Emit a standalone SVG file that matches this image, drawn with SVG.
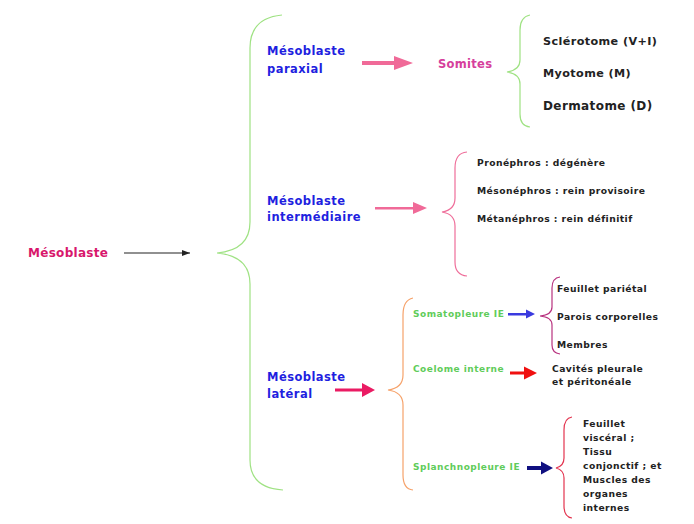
<svg xmlns="http://www.w3.org/2000/svg" width="694" height="524" viewBox="0 0 694 524">
<style>
text{font-family:"DejaVu Sans","Liberation Sans",sans-serif;font-weight:bold}
.b{fill:#1f1fe0;font-size:11.5px;letter-spacing:0.45px}
.k{fill:#222;font-size:9.2px;letter-spacing:0.45px}
.k2{fill:#222;font-size:11.2px;letter-spacing:0.4px}
.g{fill:#5fcc5a;font-size:9px;letter-spacing:0.5px}
.br{fill:none;stroke-width:1.2}
</style>
<defs>
<marker id="ab" markerWidth="8" markerHeight="6" refX="8" refY="3" orient="auto" markerUnits="userSpaceOnUse"><path d="M0,0 L8,3 L0,6 z" fill="#222"/></marker>
</defs>
<rect width="694" height="524" fill="#fff"/>
<g id="connectors">
<line x1="124" y1="253" x2="190" y2="253" stroke="#222" stroke-width="1.2" marker-end="url(#ab)"/>
<path d="M362,61 L394,61 L394,56 L413,63 L394,70 L394,65 L362,65 z" fill="#f06a98"/>
<path d="M375,207 L413,207 L413,202 L427,208 L413,214 L413,209.5 L375,209.5 z" fill="#f06a98"/>
<path d="M335,388.5 L362,388.5 L362,383 L375,390 L362,397 L362,391.5 L335,391.5 z" fill="#ea1b63"/>
<path d="M508,313 L526,313 L526,309.5 L535,314 L526,318.5 L526,315.5 L508,315.5 z" fill="#3a3adf"/>
<path d="M510,371.5 L524,371.5 L524,366.5 L537,373 L524,379.5 L524,374.5 L510,374.5 z" fill="#f01010"/>
<path d="M527,466 L541,466 L541,461.5 L553,468 L541,474.5 L541,470 L527,470 z" fill="#101080"/>
</g>
<g id="braces">
<path class="br" stroke="#9fe283" d="M282,15 Q250,18 250,48 L250,222 Q250,250 217,253 Q250,256 250,284 L250,460 Q250,488 283,490"/>
<path class="br" stroke="#9fe283" d="M530,15 Q520,17 520,30 L520,60 Q520,70 507,72 Q520,74 520,84 L520,114 Q520,126 530,127"/>
<path class="br" stroke="#ef6e9a" d="M467,152 Q455,153 455,168 L455,198 Q455,210 442,212 Q455,214 455,226 L455,262 Q455,275 467,276"/>
<path class="br" stroke="#f6a26a" d="M413,298 Q403,300 403,315 L403,375 Q403,388 388,390 Q403,392 403,405 L403,475 Q403,489 413,490"/>
<path class="br" stroke="#b8327f" d="M560,277 Q552,278 552,288 L552,307 Q552,315 540,316 Q552,317 552,325 L552,345 Q552,353 560,354"/>
<path class="br" stroke="#e3344f" d="M572,417 Q564,418 564,430 L564,458 Q564,466 556,468 Q564,470 564,478 L564,506 Q564,517 572,518"/>
</g>
<g id="mesoblaste"><text x="28" y="257" font-size="12" fill="#d8176c" letter-spacing="0.3">Mésoblaste</text></g>
<g id="paraxial"><text class="b" x="267" y="55">Mésoblaste</text><text class="b" x="267" y="73">paraxial</text></g>
<g id="somites"><text x="438" y="68" font-size="11.5" fill="#d6409c" letter-spacing="0.3">Somites</text></g>
<g id="somites-list">
<text class="k2" x="543" y="45">Sclérotome (V+I)</text>
<text class="k2" x="543" y="77">Myotome (M)</text>
<text class="k2" x="543" y="110" style="font-size:12px">Dermatome (D)</text>
</g>
<g id="intermediaire"><text class="b" x="267" y="205">Mésoblaste</text><text class="b" x="267" y="221">intermédiaire</text></g>
<g id="reins">
<text class="k" x="477" y="166">Pronéphros : dégénère</text>
<text class="k" x="477" y="194">Mésonéphros : rein provisoire</text>
<text class="k" x="477" y="222">Métanéphros : rein définitif</text>
</g>
<g id="lateral"><text class="b" x="267" y="381">Mésoblaste</text><text class="b" x="267" y="398">latéral</text></g>
<g id="somatopleure"><text class="g" x="413" y="317">Somatopleure IE</text></g>
<g id="somato-list">
<text class="k" x="557" y="292">Feuillet pariétal</text>
<text class="k" x="557" y="320">Parois corporelles</text>
<text class="k" x="557" y="348">Membres</text>
</g>
<g id="coelome"><text class="g" x="413" y="372">Coelome interne</text></g>
<g id="cavites"><text class="k" x="552" y="372">Cavités pleurale</text><text class="k" x="552" y="385">et péritonéale</text></g>
<g id="splanchnopleure"><text class="g" x="413" y="470">Splanchnopleure IE</text></g>
<g id="splanchno-list">
<text class="k" x="583" y="427">Feuillet</text>
<text class="k" x="583" y="441">viscéral ;</text>
<text class="k" x="583" y="455">Tissu</text>
<text class="k" x="583" y="469">conjonctif ; et</text>
<text class="k" x="583" y="483">Muscles des</text>
<text class="k" x="583" y="497">organes</text>
<text class="k" x="583" y="511">internes</text>
</g>
</svg>
